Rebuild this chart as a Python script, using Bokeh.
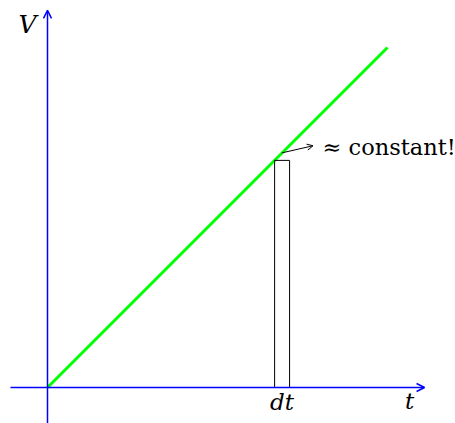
from bokeh.plotting import figure
from bokeh.models import Arrow, OpenHead, Range1d
from bokeh.core.properties import value
from bokeh.embed import file_html
from bokeh.resources import INLINE

# data (units: 1 unit = 34 px in the picture)
line_t = [0.0, 10.0]
line_v = [0.0, 10.0]
dt_left = [6.68]
dt_right = [7.12]
dt_bottom = [0.0]
dt_top = [6.68]
haxis_x = [-1.09, 11.09]
vaxis_y = [-1.2, 11.09]
note_start = [6.89, 6.90]
note_end = [7.81, 7.11]
note_text = ["≈ constant!"]
note_pos = [8.09, 7.08]
v_label = ["V"]
v_pos = [-0.59, 10.68]
t_label = ["t"]
t_pos = [10.65, -0.40]
dt_label = ["dt"]
dt_pos = [6.90, -0.44]

W, H = 455, 423
p = figure(width=W, height=H, output_backend="svg", toolbar_location=None,
           x_range=Range1d(-47/34, (W-47)/34), y_range=Range1d((387-H)/34, 387/34),
           min_border=0)
p.axis.visible = False
p.grid.visible = False
p.outline_line_color = None
p.background_fill_color = "white"

blue = "#0000ff"
p.add_layout(Arrow(x_start=haxis_x[0], y_start=0, x_end=haxis_x[1], y_end=0,
                   line_color=blue, line_width=1.5,
                   end=OpenHead(size=8, line_color=blue, line_width=1.5)))
p.add_layout(Arrow(x_start=0, y_start=vaxis_y[0], x_end=0, y_end=vaxis_y[1],
                   line_color=blue, line_width=1.5,
                   end=OpenHead(size=8, line_color=blue, line_width=1.5)))

p.line(line_t, line_v, line_color="#00ff00", line_width=3)
p.quad(left=dt_left, right=dt_right, bottom=dt_bottom, top=dt_top,
       fill_color=None, line_color="black", line_width=1)

p.add_layout(Arrow(x_start=note_start[0], y_start=note_start[1],
                   x_end=note_end[0], y_end=note_end[1],
                   line_color="black", line_width=1,
                   end=OpenHead(size=6, line_color="black", line_width=1)))

p.text(x=[note_pos[0]], y=[note_pos[1]], text=note_text,
       text_font=value("DejaVu Serif"), text_font_size="22.5px",
       text_align="left", text_baseline="middle", text_color="black")
p.text(x=[v_pos[0]], y=[v_pos[1]], text=v_label,
       text_font=value("DejaVu Serif"), text_font_style="italic", text_font_size="25px",
       text_align="center", text_baseline="middle", text_color="black")
p.text(x=[t_pos[0]], y=[t_pos[1]], text=t_label,
       text_font=value("DejaVu Serif"), text_font_style="italic", text_font_size="23px",
       text_align="center", text_baseline="middle", text_color="black")
p.text(x=[dt_pos[0]], y=[dt_pos[1]], text=dt_label,
       text_font=value("DejaVu Serif"), text_font_style="italic", text_font_size="23px",
       text_align="center", text_baseline="middle", text_color="black")

open("out.html", "w").write(file_html(p, INLINE))
